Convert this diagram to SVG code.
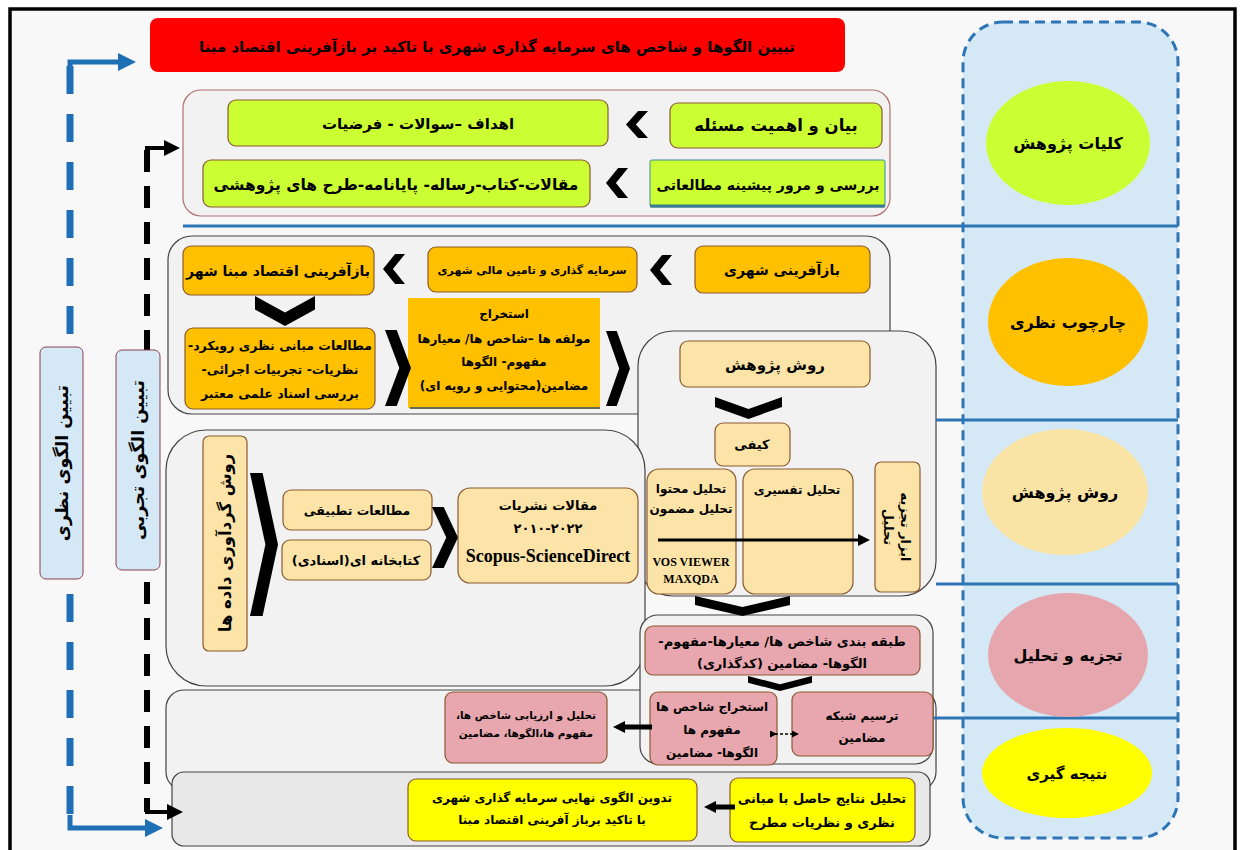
<svg xmlns="http://www.w3.org/2000/svg" width="1244" height="850" viewBox="0 0 1244 850">
<style>
.t{font-family:"DejaVu Sans",sans-serif;font-weight:bold;fill:#000;text-anchor:middle;direction:rtl}
.e{font-family:"Liberation Serif",serif;font-weight:bold;fill:#000;text-anchor:middle;direction:ltr}
.ct{fill:#f2f2f2;stroke:#444;stroke-width:1.2}
.bx{stroke:#8a5a30;stroke-width:1.2}
.lime{fill:#ccff33}.org{fill:#ffc000}.bei{fill:#fce4a8}.pnk{fill:#e8a6ae}.yel{fill:#ffff00}.lb{fill:#d5e8f5}
.sep{stroke:#2e75b6;stroke-width:3}
.chev{fill:#000}
</style>
<defs>
<path id="chR" d="M0,0 L0.45,0 L1,0.5 L0.45,1 L0,1 L0.55,0.5 Z"/>
<path id="chD" d="M0,0 L0.5,0.55 L1,0 L1,0.45 L0.5,1 L0,0.45 Z"/>
<marker id="mb" viewBox="0 0 10 10" refX="0" refY="5" markerWidth="22" markerHeight="18" markerUnits="userSpaceOnUse" orient="auto"><path d="M0,0 L10,5 L0,10 Z" fill="#1f6fb5"/></marker>
<marker id="mk" viewBox="0 0 10 10" refX="0" refY="5" markerWidth="18" markerHeight="16" markerUnits="userSpaceOnUse" orient="auto"><path d="M0,0 L10,5 L0,10 Z" fill="#000"/></marker>
<marker id="ms" viewBox="0 0 10 10" refX="0" refY="5" markerWidth="14" markerHeight="12" markerUnits="userSpaceOnUse" orient="auto"><path d="M0,0 L10,5 L0,10 Z" fill="#000"/></marker>
<marker id="md" viewBox="0 0 10 10" refX="0" refY="5" markerWidth="8" markerHeight="7" markerUnits="userSpaceOnUse" orient="auto"><path d="M0,0 L10,5 L0,10 Z" fill="#000"/></marker>
</defs>

<rect x="0" y="0" width="1244" height="850" fill="#fff"/>
<rect x="10" y="9" width="1225" height="850" fill="#f8f8f8" stroke="#000" stroke-width="3.5"/>

<g id="phase-column">
<rect x="963" y="22" width="215" height="816" rx="40" fill="#d5e8f5" stroke="#2e75b6" stroke-width="3" stroke-dasharray="10 6"/>
</g>

<g id="containers">
<rect x="183" y="90" width="707" height="126" rx="18" class="ct" style="stroke:#b07070"/>
<rect x="168" y="236" width="722" height="178" rx="24" class="ct"/>
<rect x="638" y="331" width="298" height="265" rx="35" class="ct"/>
<rect x="166" y="430" width="479" height="256" rx="40" class="ct"/>
<rect x="166" y="690" width="770" height="100" rx="18" class="ct"/>
<rect x="640" y="615" width="293" height="149" rx="18" class="ct"/>
<rect x="172" y="772" width="758" height="74" rx="12" class="ct" style="fill:#e8e8e8"/>
</g>

<g id="separators">
<line x1="183" y1="226" x2="1178" y2="226" class="sep"/>
<line x1="936" y1="420" x2="1178" y2="420" class="sep"/>
<line x1="936" y1="584" x2="1178" y2="584" class="sep"/>
<line x1="905" y1="718" x2="1178" y2="718" class="sep"/>
</g>

<g id="phase-kolliyat"><ellipse cx="1068" cy="143" rx="82" ry="62" fill="#ccff33"/><text x="1068" y="149" class="t" font-size="16">کلیات پژوهش</text></g>
<g id="phase-chaarchoob"><ellipse cx="1068" cy="322" rx="80" ry="64" fill="#ffc000"/><text x="1068" y="328" class="t" font-size="16">چارچوب نظری</text></g>
<g id="phase-ravesh"><ellipse cx="1065" cy="492" rx="83" ry="63" fill="#f9e4a5"/><text x="1065" y="498" class="t" font-size="16">روش پژوهش</text></g>
<g id="phase-tajzie"><ellipse cx="1068" cy="655" rx="80" ry="62" fill="#e6a6ad"/><text x="1068" y="661" class="t" font-size="16">تجزیه و تحلیل</text></g>
<g id="phase-natije"><ellipse cx="1067" cy="773" rx="85" ry="45" fill="#ffff00"/><text x="1067" y="779" class="t" font-size="15">نتیجه گیری</text></g>

<g id="title"><rect x="150" y="18" width="695" height="54" rx="8" fill="#ff0000"/><text x="497" y="52" class="t" font-size="15">تبیین الگوها و شاخص های سرمایه گذاری شهری با تاکید بر بازآفرینی اقتصاد مبنا</text></g>

<g id="bayan"><rect x="670" y="103" width="212" height="45" rx="8" class="bx lime"/><text x="776" y="131" class="t" font-size="16.5">بیان و اهمیت مسئله</text></g>
<g id="ahdaf"><rect x="228" y="100" width="380" height="46" rx="8" class="bx lime"/><text x="418" y="129" class="t" font-size="15">اهداف –سوالات - فرضیات</text></g>
<g id="barresi"><rect x="650" y="160" width="235" height="47" rx="2" class="lime" stroke="#3a8a9a" stroke-width="1"/><line x1="650" y1="206" x2="885" y2="206" stroke="#3a7a8a" stroke-width="3"/><text x="768" y="190" class="t" font-size="14">بررسی و مرور پیشینه مطالعاتی</text></g>
<g id="maghalat"><rect x="203" y="160" width="387" height="47" rx="8" class="bx lime"/><text x="396" y="190" class="t" font-size="15.5">مقالات-کتاب-رساله-  پایانامه-طرح های پژوهشی</text></g>

<g id="bazafarini-shahri"><rect x="695" y="246" width="175" height="47" rx="8" class="bx org"/><text x="782" y="275" class="t" font-size="14">بازآفرینی شهری</text></g>
<g id="sarmaye"><rect x="428" y="247" width="209" height="45" rx="8" class="bx org"/><text x="532" y="274" class="t" font-size="11">سرمایه گذاری و تامین مالی شهری</text></g>
<g id="bazafarini-eghtesad"><rect x="183" y="246" width="191" height="49" rx="8" class="bx org"/><text x="278" y="276" class="t" font-size="14">بازآفرینی اقتصاد مبنا شهر</text></g>
<g id="motaleat-mabani"><rect x="185" y="328" width="190" height="81" rx="8" class="bx org"/>
<text class="t" font-size="12.5"><tspan x="280" y="350">مطالعات مبانی نظری رویکرد-</tspan><tspan x="280" y="374">نظریات- تجربیات اجرائی-</tspan><tspan x="280" y="398">بررسی اسناد علمی معتبر</tspan></text></g>
<g id="estekhraj"><rect x="408" y="298" width="192" height="110" class="org"/><line x1="410" y1="408" x2="600" y2="408" stroke="#6a6a50" stroke-width="2"/>
<text class="t" font-size="12"><tspan x="504" y="318">استخراج</tspan><tspan x="504" y="343">مولفه ها –شاخص ها/ معیارها</tspan><tspan x="504" y="366">مفهوم- الگوها</tspan><tspan x="504" y="390">مضامین(محتوایی و رویه ای)</tspan></text></g>

<g id="ravesh-pajohesh"><rect x="680" y="341" width="190" height="46" rx="8" class="bx bei"/><text x="775" y="370" class="t" font-size="15">روش پژوهش</text></g>
<g id="keyfi"><rect x="715" y="423" width="75" height="43" rx="8" class="bx bei"/><text x="752" y="449" class="t" font-size="13">کیفی</text></g>
<g id="tahlil-mohtava"><rect x="647" y="469" width="89" height="125" rx="12" class="bx bei"/>
<text class="t" font-size="12"><tspan x="691" y="493">تحلیل محتوا</tspan><tspan x="691" y="513">تحلیل مضمون</tspan></text>
<text class="e" font-size="12"><tspan x="691" y="566">VOS VIEWER</tspan><tspan x="691" y="583">MAXQDA</tspan></text></g>
<g id="tahlil-tafsiri"><rect x="743" y="469" width="110" height="125" rx="12" class="bx bei"/><text x="797" y="494" class="t" font-size="12">تحلیل تفسیری</text></g>
<g id="abzar"><rect x="875" y="462" width="45" height="130" rx="6" class="bx bei"/>
<text class="t" font-size="13" transform="translate(897,527) rotate(90)"><tspan x="0" y="-4">ابزار تجزیه</tspan><tspan x="0" y="13">تحلیل</tspan></text></g>

<g id="gardavari"><rect x="203" y="436" width="44" height="215" rx="6" class="bx bei"/><text class="t" font-size="16.5" transform="translate(225,543) rotate(-90)" x="0" y="6">روش گردآوری داده ها</text></g>
<g id="tatbighi"><rect x="283" y="490" width="149" height="40" rx="8" class="bx bei"/><text x="357" y="515" class="t" font-size="12.5">مطالعات تطبیقی</text></g>
<g id="ketabkhane"><rect x="282" y="540" width="149" height="40" rx="8" class="bx bei"/><text x="356" y="565" class="t" font-size="13">کتابخانه ای(اسنادی)</text></g>
<g id="nashriyat"><rect x="458" y="488" width="180" height="95" rx="12" class="bx bei"/>
<text x="548" y="510" class="t" font-size="13">مقالات نشریات</text>
<text x="548" y="533" class="t" font-size="13" style="direction:ltr">۲۰۱۰-۲۰۲۲</text>
<text x="548" y="562" class="e" font-size="18">Scopus-ScienceDirect</text></g>

<g id="tabaghe"><rect x="645" y="626" width="275" height="49" rx="8" class="bx pnk"/>
<text class="t" font-size="13"><tspan x="782" y="646">طبقه بندی شاخص ها/ معیارها-مفهوم-</tspan><tspan x="782" y="668">الگوها- مضامین (کدگذاری)</tspan></text></g>
<g id="estekhraj-shakhes"><rect x="650" y="692" width="127" height="73" rx="8" class="bx pnk"/>
<text class="t" font-size="12"><tspan x="712" y="711">استخراج شاخص ها</tspan><tspan x="712" y="734">مفهوم ها</tspan><tspan x="712" y="757">الگوها- مضامین</tspan></text></g>
<g id="tarsim"><rect x="792" y="692" width="141" height="64" rx="8" class="bx pnk"/>
<text class="t" font-size="12"><tspan x="862" y="720">ترسیم شبکه</tspan><tspan x="862" y="742">مضامین</tspan></text></g>
<g id="arzyabi"><rect x="445" y="692" width="162" height="71" rx="8" class="bx pnk"/>
<text class="t" font-size="10.5"><tspan x="526" y="719">تحلیل و ارزیابی شاخص ها،</tspan><tspan x="526" y="737">مفهوم ها،الگوها، مضامین</tspan></text></g>

<g id="tahlil-nataiej"><rect x="730" y="778" width="185" height="64" rx="8" class="bx yel"/>
<text class="t" font-size="13"><tspan x="822" y="803">تحلیل نتایج حاصل با مبانی</tspan><tspan x="822" y="827">نظری و نظریات مطرح</tspan></text></g>
<g id="tadvin"><rect x="408" y="779" width="289" height="62" rx="8" class="bx yel"/>
<text class="t" font-size="12"><tspan x="552" y="802">تدوین الگوی نهایی سرمایه گذاری شهری</tspan><tspan x="552" y="824">با تاکید برباز آفرینی اقتصاد مبنا</tspan></text></g>

<g id="side-lines">
<line x1="70" y1="66" x2="70" y2="826" stroke="#1f6fb5" stroke-width="7" stroke-dasharray="28 20"/>
<line x1="147" y1="150" x2="147" y2="812" stroke="#000" stroke-width="6" stroke-dasharray="22 14"/>
</g>
<g id="label-nazari"><rect x="40" y="347" width="43" height="232" rx="6" class="lb" stroke="#8b4050" stroke-width="1"/><text class="t" font-size="17.5" transform="translate(62,463) rotate(-90)" x="0" y="6">تبیین الگوی نظری</text></g>
<g id="label-tajrobi"><rect x="116" y="350" width="44" height="220" rx="6" class="lb" stroke="#8b4050" stroke-width="1"/><text class="t" font-size="17.5" transform="translate(138,460) rotate(-90)" x="0" y="6">تبیین الگوی تجربی</text></g>

<g id="connectors">
<polyline points="70,75 70,62 118,62" fill="none" stroke="#1f6fb5" stroke-width="5" marker-end="url(#mb)"/>
<polyline points="70,815 70,828 145,828" fill="none" stroke="#1f6fb5" stroke-width="5" marker-end="url(#mb)"/>
<polyline points="147,160 147,148 164,148" fill="none" stroke="#000" stroke-width="4" marker-end="url(#mk)"/>
<polyline points="147,800 147,812 167,812" fill="none" stroke="#000" stroke-width="4" marker-end="url(#mk)"/>
<line x1="658" y1="540" x2="858" y2="540" stroke="#000" stroke-width="3" marker-end="url(#ms)"/>
<line x1="652" y1="727" x2="625" y2="727" stroke="#000" stroke-width="5" marker-end="url(#ms)"/>
<line x1="735" y1="807" x2="716" y2="807" stroke="#000" stroke-width="5" marker-end="url(#ms)"/>
<line x1="770" y1="734" x2="792" y2="734" stroke="#000" stroke-width="1.5" stroke-dasharray="3 2" marker-end="url(#md)" marker-start="url(#md)"/>
<use href="#chR" class="chev" transform="translate(648,111) scale(-22,27)"/>
<use href="#chR" class="chev" transform="translate(628,168) scale(-22,30)"/>
<use href="#chR" class="chev" transform="translate(672,255) scale(-22,30)"/>
<use href="#chR" class="chev" transform="translate(405,254) scale(-22,30)"/>
<use href="#chD" class="chev" transform="translate(255,296) scale(60,30)"/>
<use href="#chR" class="chev" transform="translate(385,330) scale(26,76)"/>
<use href="#chR" class="chev" transform="translate(606,331) scale(24,75)"/>
<use href="#chD" class="chev" transform="translate(715,397) scale(67,22)"/>
<use href="#chD" class="chev" transform="translate(695,596) scale(95,20)"/>
<use href="#chR" class="chev" transform="translate(250,473) scale(28,143)"/>
<use href="#chR" class="chev" transform="translate(432,507) scale(26,61)"/>
<use href="#chD" class="chev" transform="translate(748,676) scale(64,15)"/>
</g>
</svg>
